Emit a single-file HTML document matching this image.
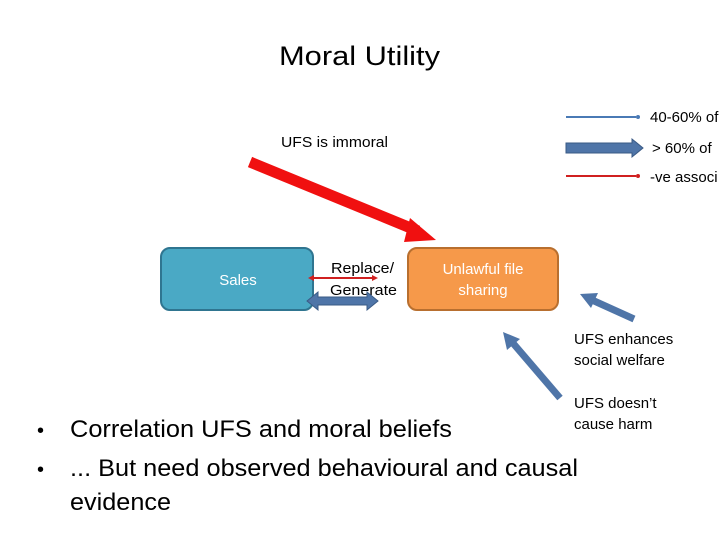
<!DOCTYPE html>
<html><head><style>
body{margin:0;width:720px;height:540px;background:#fff;overflow:hidden;font-family:"Liberation Sans",sans-serif}
</style></head><body>
<svg width="720" height="540" xmlns="http://www.w3.org/2000/svg" style="font-family:'Liberation Sans',sans-serif">
<text x="279" y="65" font-size="27" textLength="161" lengthAdjust="spacingAndGlyphs" fill="#000">Moral Utility</text>
<!-- legend -->
<line x1="566" y1="117" x2="636" y2="117" stroke="#4a7ab5" stroke-width="2"/>
<circle cx="638" cy="117" r="2" fill="#4a7ab5"/>
<text x="650" y="122" font-size="15">40-60% of</text>
<polygon points="566,143 632,143 632,139 643,148 632,157 632,153 566,153" fill="#4f75a8" stroke="#3a5a85"/>
<text x="652" y="153" font-size="15">&gt; 60% of</text>
<line x1="566" y1="176" x2="636" y2="176" stroke="#d02020" stroke-width="2"/>
<circle cx="638" cy="176" r="2" fill="#d02020"/>
<text x="650" y="182" font-size="15">-ve associ</text>
<text x="281" y="147" font-size="15" textLength="107" lengthAdjust="spacingAndGlyphs">UFS is immoral</text>
<!-- red arrow -->
<line x1="250" y1="162" x2="418" y2="231" stroke="#f01010" stroke-width="11"/>
<polygon points="410,218 436,240 404,242" fill="#f01010"/>
<!-- boxes -->
<rect x="161" y="248" width="152" height="62" rx="9" fill="#4aa9c5" stroke="#2f7590" stroke-width="2"/>
<text x="238" y="285" font-size="15" fill="#fff" text-anchor="middle">Sales</text>
<rect x="408" y="248" width="150" height="62" rx="9" fill="#f6994a" stroke="#b86f2f" stroke-width="2"/>
<text x="483" y="274" font-size="15" fill="#fff" text-anchor="middle">Unlawful file</text>
<text x="483" y="295" font-size="15" fill="#fff" text-anchor="middle">sharing</text>
<text x="331" y="273" font-size="15" textLength="63" lengthAdjust="spacingAndGlyphs">Replace/</text>
<text x="330" y="295" font-size="15" textLength="67" lengthAdjust="spacingAndGlyphs">Generate</text>
<line x1="310" y1="278" x2="376" y2="278" stroke="#d02020" stroke-width="2"/>
<polygon points="308,278 314,275 314,281" fill="#d02020"/>
<polygon points="378,278 372,275 372,281" fill="#d02020"/>
<polygon points="307,301 318,292 318,297 367,297 367,292 378,301 367,310 367,305 318,305 318,310" fill="#4f75a8" stroke="#3a5a85"/>
<!-- blue arrows -->
<line x1="634" y1="319" x2="592" y2="300" stroke="#4f75a8" stroke-width="7"/>
<polygon points="580,294 598,293 591,308" fill="#4f75a8"/>
<line x1="560" y1="398" x2="512" y2="342" stroke="#4f75a8" stroke-width="7"/>
<polygon points="503,332 520,339 507,350" fill="#4f75a8"/>
<text x="574" y="344" font-size="15">UFS enhances</text>
<text x="574" y="365" font-size="15">social welfare</text>
<text x="574" y="408" font-size="15">UFS doesn’t</text>
<text x="574" y="429" font-size="15">cause harm</text>
<text x="37" y="437" font-size="20">•</text>
<text x="70" y="437" font-size="24" textLength="382" lengthAdjust="spacingAndGlyphs">Correlation UFS and moral beliefs</text>
<text x="37" y="476" font-size="20">•</text>
<text x="70" y="476" font-size="24" textLength="508" lengthAdjust="spacingAndGlyphs">... But need observed behavioural and causal</text>
<text x="70" y="510" font-size="24" textLength="101" lengthAdjust="spacingAndGlyphs">evidence</text>
</svg>
</body></html>
